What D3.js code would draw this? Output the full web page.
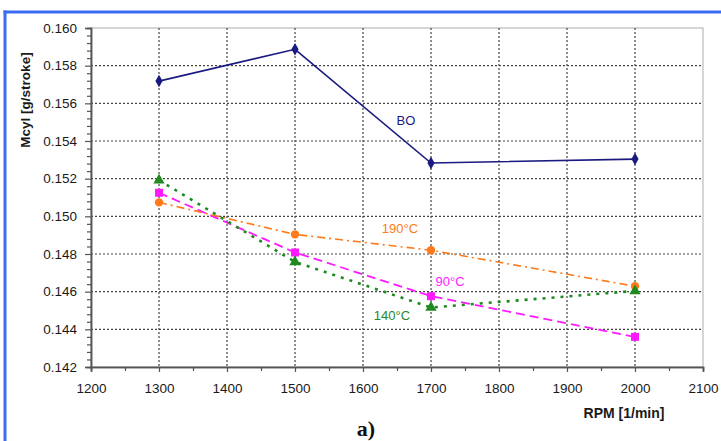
<!DOCTYPE html>
<html>
<head>
<meta charset="utf-8">
<script src="https://cdn.jsdelivr.net/npm/d3@7"></script>
<style>
  html, body { margin: 0; padding: 0; background: #fff; }
  svg { display: block; }
</style>
</head>
<body>
<svg id="chart" width="721" height="441"></svg>
<script>
// Engine speed (RPM) at which each run was measured
const rpm = [1300, 1500, 1700, 2000];

// Cylinder mass per stroke [g/stroke] for each condition
const boValues   = [0.15718, 0.15887, 0.15283, 0.15304];
const t140Values = [0.15192, 0.14758, 0.14516, 0.14604];
const t90Values  = [0.15125, 0.14808, 0.14576, 0.14360];
const t190Values = [0.15074, 0.14904, 0.14820, 0.14629];

const seriesNames = ["BO", "140°C", "90°C", "190°C"];

const xTicks = [1200, 1300, 1400, 1500, 1600, 1700, 1800, 1900, 2000, 2100];
const yTicks = [0.142, 0.144, 0.146, 0.148, 0.150, 0.152, 0.154, 0.156, 0.158, 0.160];

const svg = d3.select("#chart");
const plotLeft = 91, plotRight = 703, plotTop = 28, plotBottom = 367;
const sans = "Liberation Sans, Arial, sans-serif";

const x = d3.scaleLinear().domain([1200, 2100]).range([plotLeft, plotRight]);
const y = d3.scaleLinear().domain([0.142, 0.160]).range([plotBottom, plotTop]);

// Blue frame along the top and left edges
svg.append("line").attr("x1", 3.5).attr("x2", 721).attr("y1", 12).attr("y2", 12)
  .attr("stroke", "#3c6cf4").attr("stroke-width", 3);
svg.append("line").attr("x1", 5).attr("x2", 5).attr("y1", 10.5).attr("y2", 441)
  .attr("stroke", "#3c6cf4").attr("stroke-width", 3);

// Plot area outline (light grey top/right)
svg.append("rect").attr("x", plotLeft).attr("y", plotTop)
  .attr("width", plotRight - plotLeft).attr("height", plotBottom - plotTop)
  .attr("fill", "none").attr("stroke", "#c8c8c8").attr("stroke-width", 1.5);

// Dotted grid
const grid = svg.append("g").attr("stroke", "#444").attr("stroke-width", 1.2)
  .attr("stroke-dasharray", "2,2");
xTicks.slice(1, -1).forEach(v => {
  grid.append("line").attr("x1", x(v)).attr("x2", x(v)).attr("y1", plotTop).attr("y2", plotBottom);
});
yTicks.slice(1, -1).forEach(v => {
  grid.append("line").attr("x1", plotLeft).attr("x2", plotRight).attr("y1", y(v)).attr("y2", y(v));
});

// Axes
const xAxis = d3.axisBottom(x).tickValues(xTicks).tickSize(5).tickPadding(11)
  .tickFormat(d3.format("d"));
svg.append("g").attr("transform", `translate(0,${plotBottom})`).call(xAxis);
const xMinor = d3.axisBottom(x).tickValues(d3.range(1250, 2100, 100)).tickSize(4).tickFormat("");
svg.append("g").attr("transform", `translate(0,${plotBottom})`).call(xMinor);

const yAxis = d3.axisLeft(y).tickValues(yTicks).tickSize(6).tickPadding(8)
  .tickFormat(d3.format(".3f"));
svg.append("g").attr("transform", `translate(${plotLeft},0)`).call(yAxis);
const yMinor = d3.axisLeft(y)
  .tickValues(d3.range(0, 46).map(i => 0.142 + i * 0.0004).filter((v, i) => i % 5 !== 0))
  .tickSize(4).tickFormat("");
svg.append("g").attr("transform", `translate(${plotLeft},0)`).call(yMinor);

svg.selectAll(".domain").attr("stroke", "#555").attr("stroke-width", 1.5);
svg.selectAll(".tick line").attr("stroke", "#555").attr("stroke-width", 1.2);
svg.selectAll(".tick text").attr("font-family", sans)
  .attr("font-size", 13.5).attr("fill", "#1a1a1a");

// Axis titles
svg.append("text").attr("x", 624).attr("y", 418).attr("text-anchor", "middle")
  .attr("font-family", sans).attr("font-weight", "bold")
  .attr("font-size", 14).attr("fill", "#1a1a1a").text("RPM [1/min]");
svg.append("text").attr("transform", "translate(30,100) rotate(-90)").attr("text-anchor", "middle")
  .attr("font-family", sans).attr("font-weight", "bold")
  .attr("font-size", 13.5).attr("fill", "#1a1a1a").text("Mcyl [g/stroke]");
svg.append("text").attr("x", 366).attr("y", 436).attr("text-anchor", "middle")
  .attr("font-family", "Liberation Serif, Times New Roman, serif").attr("font-weight", "bold")
  .attr("font-size", 22).attr("fill", "#111").text("a)");

// Series
const series = [
  { name: seriesNames[0], values: boValues,   color: "#1a1a80", dash: null,      width: 1.6, symbol: d3.symbolDiamond, size: 45 },
  { name: seriesNames[2], values: t90Values,  color: "#ff19ff", dash: "9,5",     width: 1.8, symbol: d3.symbolSquare,  size: 64 },
  { name: seriesNames[3], values: t190Values, color: "#ff7a1a", dash: "8,4,2,4", width: 1.6, symbol: d3.symbolCircle,  size: 55 },
  { name: seriesNames[1], values: t140Values, color: "#1f8a1f", dash: "3,6",     width: 2.6, symbol: d3.symbolTriangle, size: 55 }
];

const line = d3.line().x(d => x(d[0])).y(d => y(d[1]));

series.forEach(s => {
  const pts = rpm.map((r, i) => [r, s.values[i]]);
  svg.append("path").datum(pts).attr("d", line)
    .attr("fill", "none").attr("stroke", s.color).attr("stroke-width", s.width)
    .attr("stroke-dasharray", s.dash);
  svg.append("g").selectAll("path").data(pts).join("path")
    .attr("transform", d => `translate(${x(d[0])},${y(d[1])})`)
    .attr("d", d3.symbol().type(s.symbol).size(s.size))
    .attr("fill", s.color);
});

// Series labels
const labels = [
  { text: seriesNames[0], x: 406, y: 125, color: "#1a1a80" },
  { text: seriesNames[3], x: 400, y: 233, color: "#ff7a1a" },
  { text: seriesNames[2], x: 450, y: 286, color: "#ff19ff" },
  { text: seriesNames[1], x: 392, y: 320, color: "#1f8a1f" }
];
svg.append("g").selectAll("text").data(labels).join("text")
  .attr("x", d => d.x).attr("y", d => d.y).attr("text-anchor", "middle")
  .attr("font-family", sans).attr("font-size", 13)
  .attr("fill", d => d.color).text(d => d.text);
</script>
</body>
</html>
